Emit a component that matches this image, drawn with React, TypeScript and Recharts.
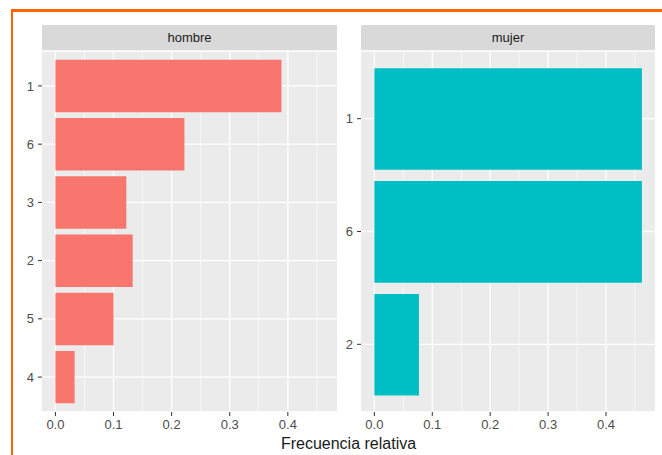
import { BarChart, Bar, XAxis, YAxis, CartesianGrid } from 'recharts';

const hombreCats = ['1', '6', '3', '2', '5', '4'];
const hombreValues = [0.389, 0.222, 0.122, 0.133, 0.1, 0.033];
const mujerCats = ['1', '6', '2'];
const mujerValues = [0.462, 0.462, 0.077];
const xTicks = [0, 0.1, 0.2, 0.3, 0.4];
const xMinor = [0.05, 0.15, 0.25, 0.35, 0.45];

const PLOT_TOP = 51;
const PLOT_BOTTOM = 412;
const CHART_H = 445;
const X_DOMAIN = [-0.0231, 0.4846];

function Facet({ label, cats, values, color, chartLeft, axisWidth, plotRight }: any) {
  const data = cats.map((c: string, i: number) => ({ cat: c, value: values[i] }));
  const plotH = PLOT_BOTTOM - PLOT_TOP;
  // ggplot discrete scale: 0.6 units expansion each side, bars 0.9 wide
  const unit = plotH / (cats.length + 0.2);
  const pad = unit * 0.1;
  const chartW = plotRight - chartLeft;

  return (
    <>
      <div
        style={{
          position: 'absolute',
          left: chartLeft + axisWidth,
          top: 25,
          width: chartW - axisWidth,
          height: 26,
          lineHeight: '26px',
          background: '#D9D9D9',
          color: '#1A1A1A',
          fontSize: 13,
          textAlign: 'center',
        }}
      >
        {label}
      </div>
      <div style={{ position: 'absolute', left: chartLeft, top: 0 }}>
        <BarChart
          width={chartW}
          height={CHART_H}
          data={data}
          layout="vertical"
          margin={{ top: PLOT_TOP, right: 0, bottom: 0, left: 0 }}
          barSize={unit * 0.9}
        >
          <CartesianGrid fill="#EBEBEB" stroke="#FFFFFF" strokeWidth={0.6} horizontal={false} verticalValues={xMinor} />
          <CartesianGrid stroke="#FFFFFF" strokeWidth={1.3} verticalValues={xTicks} />
          <XAxis
            type="number"
            domain={X_DOMAIN}
            ticks={xTicks}
            allowDataOverflow
            height={CHART_H - PLOT_BOTTOM}
            tickFormatter={(v: number) => v.toFixed(1)}
            axisLine={false}
            tickSize={4}
            tickMargin={4}
            tick={{ fill: '#4D4D4D', fontSize: 13 }}
            tickLine={{ stroke: '#333333' }}
          />
          <YAxis
            type="category"
            dataKey="cat"
            width={axisWidth}
            padding={{ top: pad, bottom: pad }}
            axisLine={false}
            tickSize={4}
            tickMargin={4}
            tick={{ fill: '#4D4D4D', fontSize: 13 }}
            tickLine={{ stroke: '#333333' }}
          />
          <Bar dataKey="value" fill={color} isAnimationActive={false} />
        </BarChart>
      </div>
    </>
  );
}

export default function App() {
  return (
    <div
      style={{
        position: 'absolute',
        left: 0,
        top: 0,
        width: 662,
        height: 455,
        background: '#FFFFFF',
        overflow: 'hidden',
        fontFamily: '"Liberation Sans", Arial, sans-serif',
      }}
    >
      <div
        style={{
          position: 'absolute',
          left: 11,
          top: 9,
          width: 700,
          height: 500,
          borderTop: '3px solid #FF6600',
          borderLeft: '2px solid #FF6600',
        }}
      />
      <Facet label="hombre" cats={hombreCats} values={hombreValues} color="#F8766D" chartLeft={0} axisWidth={42} plotRight={337} />
      <Facet label="mujer" cats={mujerCats} values={mujerValues} color="#00BFC4" chartLeft={320} axisWidth={41} plotRight={655} />
      <div
        style={{
          position: 'absolute',
          left: 42,
          top: 436,
          width: 613,
          lineHeight: '16px',
          fontSize: 16,
          textAlign: 'center',
          color: '#1A1A1A',
        }}
      >
        Frecuencia relativa
      </div>
    </div>
  );
}
